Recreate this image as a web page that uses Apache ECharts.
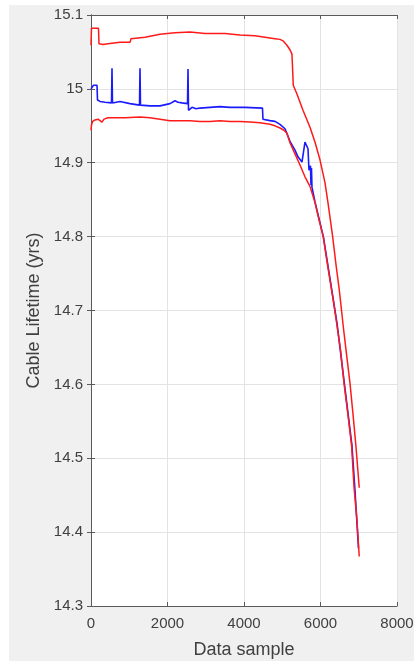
<!DOCTYPE html>
<html>
<head>
<meta charset="utf-8">
<script src="https://cdn.jsdelivr.net/npm/echarts@6/dist/echarts.min.js"></script>
<style>
body{margin:0;background:#fff;}
#chart{position:absolute;left:9px;top:5px;width:405px;height:656px;background:#f0f0f0;}
</style>
</head>
<body>
<div id="chart"></div>
<script>
// 预测值(蓝)
var predX = [0,52,65,157,170,235,366,536,549,562,758,1020,1268,1281,1294,1542,1804,2065,2196,2274,2379,2523,2536,2549,2588,2640,2745,2849,3111,3372,3633,4026,4483,4496,4679,4810,4941,5072,5202,5333,5411,5516,5594,5673,5699,5738,5751,5764,5777,5856,6078,6248,6431,6622,6823,6901,6993];
var predY = [15.0,15.0,15.005,15.005,14.985,14.983,14.982,14.981,15.028,14.981,14.983,14.980,14.978,15.028,14.978,14.977,14.977,14.980,14.984,14.982,14.981,14.980,15.027,14.971,14.969,14.975,14.973,14.974,14.975,14.976,14.975,14.975,14.974,14.959,14.957,14.956,14.952,14.946,14.929,14.917,14.908,14.901,14.928,14.919,14.890,14.896,14.870,14.893,14.867,14.847,14.799,14.743,14.683,14.602,14.517,14.457,14.378];
// 上界(红)
var upX = [0,13,196,209,314,340,444,758,1020,1046,1412,1804,2196,2588,2980,3503,3895,4287,4549,4810,4941,5019,5123,5202,5254,5280,5288,5377,5542,5725,5855,5986,6117,6195,6318,6405,6491,6596,6666,6770,6849,6927,7013];
var upY = [15.059,15.082,15.082,15.061,15.060,15.062,15.061,15.063,15.063,15.068,15.070,15.074,15.076,15.077,15.075,15.075,15.073,15.072,15.070,15.068,15.067,15.065,15.059,15.053,15.047,15.045,15.005,14.994,14.971,14.948,14.928,14.904,14.873,14.846,14.800,14.762,14.728,14.678,14.647,14.602,14.560,14.516,14.460];
// 下界(红)
var loX = [0,13,44,105,183,235,288,340,444,627,889,1281,1542,1804,2065,2327,2588,2849,3111,3372,3633,3895,4156,4418,4679,4810,4941,5045,5124,5202,5333,5464,5594,5725,5856,5960,6072,6156,6248,6339,6423,6522,6614,6718,6815,6875,6953,7013];
var loY = [14.944,14.951,14.956,14.958,14.959,14.957,14.955,14.959,14.961,14.961,14.961,14.962,14.961,14.959,14.957,14.957,14.957,14.956,14.956,14.957,14.956,14.956,14.955,14.954,14.952,14.950,14.947,14.944,14.940,14.927,14.912,14.897,14.881,14.868,14.846,14.823,14.800,14.771,14.741,14.712,14.683,14.647,14.602,14.559,14.516,14.462,14.416,14.367];

function zip(xs, ys){
	var out = [];
	for(var i = 0; i < xs.length; i++){
		out.push([xs[i], ys[i]]);
	}
	return out;
}

var font = "'Liberation Sans', Arial, sans-serif";
var axisColor = '#5a5a5a';
var textColor = '#404040';
var gridColor = '#e3e3e3';

var chart = echarts.init(document.getElementById('chart'));
var option = {
	animation: false,
	grid: {left: 82, top: 10, width: 306, height: 591, show: true, backgroundColor: '#fff', borderWidth: 0,
		outerBoundsMode: 'none', containLabel: false},
	xAxis: [
		{type: 'value', min: 0, max: 8000, interval: 2000, position: 'bottom',
			name: 'Data sample', nameLocation: 'middle', nameGap: 35,
			nameTextStyle: {fontFamily: font, fontSize: 18, color: textColor},
			axisLine: {lineStyle: {color: axisColor, width: 1}},
			axisTick: {inside: true, length: 4, lineStyle: {color: axisColor}},
			axisLabel: {margin: 10, fontFamily: font, fontSize: 15, color: textColor,
				formatter: function(v){ return String(v); }},
			splitLine: {show: true, lineStyle: {color: gridColor, width: 1}}},
		{type: 'value', min: 0, max: 8000, interval: 2000, position: 'top',
			axisLine: {show: true, lineStyle: {color: axisColor, width: 1}},
			axisTick: {inside: true, length: 4, lineStyle: {color: axisColor}},
			axisLabel: {show: false}, splitLine: {show: false}}
	],
	yAxis: [
		{type: 'value', min: 14.3, max: 15.1, interval: 0.1, position: 'left',
			name: 'Cable Lifetime (yrs)', nameLocation: 'middle', nameGap: 42, nameRotate: 90,
			nameTextStyle: {fontFamily: font, fontSize: 18, color: textColor},
			axisLine: {show: true, lineStyle: {color: axisColor, width: 1}},
			axisTick: {show: true, inside: true, length: 4, lineStyle: {color: axisColor}},
			axisLabel: {margin: 8, fontFamily: font, fontSize: 15, color: textColor},
			splitLine: {show: true, lineStyle: {color: gridColor, width: 1}}},
		{type: 'value', min: 14.3, max: 15.1, interval: 0.1, position: 'right',
			axisLine: {show: true, lineStyle: {color: axisColor, width: 1}},
			axisTick: {show: true, inside: true, length: 4, lineStyle: {color: axisColor}},
			axisLabel: {show: false}, splitLine: {show: false}}
	],
	series: [
		{name: 'pred', type: 'line', showSymbol: false, data: zip(predX, predY),
			lineStyle: {color: '#1a1aff', width: 1.6}},
		{name: 'upper', type: 'line', showSymbol: false, data: zip(upX, upY),
			lineStyle: {color: '#ff1a1a', width: 1.5}},
		{name: 'lower', type: 'line', showSymbol: false, data: zip(loX, loY),
			lineStyle: {color: '#ff1a1a', width: 1.5}}
	]
};
chart.setOption(option);
</script>
</body>
</html>
